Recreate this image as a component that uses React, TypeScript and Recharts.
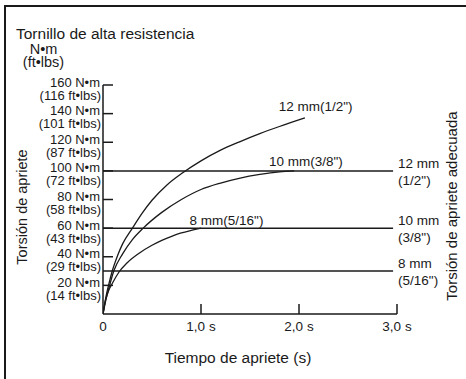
import React from 'react';
import { LineChart, Line, XAxis, YAxis, ReferenceLine, ReferenceDot } from 'recharts';

const FONT = "'Liberation Sans', Arial, sans-serif";
const INK = '#1a1a1a';

// Curves: tightening time (s) vs torque (N·m)
const time12 = [0, 0.03, 0.06, 0.09, 0.15, 0.2, 0.3, 0.4, 0.5, 0.65, 0.81, 1.0, 1.2, 1.4, 1.6, 1.8, 2.06];
const torque12 = [0, 12, 21, 29, 41, 49, 60, 70.5, 79.5, 90, 98.5, 107, 114.5, 120.5, 126, 131, 137];

const time10 = [0, 0.03, 0.06, 0.11, 0.2, 0.3, 0.41, 0.6, 0.8, 1.0, 1.2, 1.4, 1.6, 1.8, 1.95];
const torque10 = [0, 10, 18, 30, 42, 52, 60, 71, 80, 87, 91.5, 95, 97.5, 99.3, 100];

const time8 = [0, 0.02, 0.05, 0.1, 0.16, 0.25, 0.38, 0.5, 0.6, 0.7, 0.8, 0.9, 1.0];
const torque8 = [0, 8, 15, 22, 29, 36, 43, 48, 51.5, 54.2, 56.6, 58.4, 60];

// Axis ticks
const xTicks = [0, 1, 2, 3];
const xTickLabels = ['0', '1,0 s', '2,0 s', '3,0 s'];
const yTicks = [20, 40, 60, 80, 100, 120, 140, 160];
const yTickNm = ['20 N•m', '40 N•m', '60 N•m', '80 N•m', '100 N•m', '120 N•m', '140 N•m', '160 N•m'];
const yTickFt = ['(14 ft•lbs)', '(29 ft•lbs)', '(43 ft•lbs)', '(58 ft•lbs)', '(72 ft•lbs)', '(87 ft•lbs)', '(101 ft•lbs)', '(116 ft•lbs)'];

// Adequate torque levels
const levelTorque = [100, 60, 30];
const levelEnd = 2.96;
const levelLabelTop = ['12 mm', '10 mm', '8 mm'];
const levelLabelBottom = ['(1/2")', '(3/8")', '(5/16")'];

// Curve labels (anchor in data units)
const curveLabels = ['12 mm(1/2")', '10 mm(3/8")', '8 mm(5/16")'];
const curveLabelT = [2.17, 2.07, 1.26];
const curveLabelV = [145, 106.5, 65.5];

const toRows = (ts: number[], vs: number[]) => ts.map((t, i) => ({ t, v: vs[i] }));
const rows12 = toRows(time12, torque12);
const rows10 = toRows(time10, torque10);
const rows8 = toRows(time8, torque8);

const XTick = (props: any) => {
  const { x, y, payload } = props;
  const idx = xTicks.indexOf(payload.value);
  return (
    <g>
      {payload.value !== 0 && <line x1={x} y1={y} x2={x} y2={y - 10} stroke={INK} strokeWidth={1.5} />}
      <text x={x} y={y + 12} textAnchor="middle" dominantBaseline="central" fontFamily={FONT} fontSize={13.5} fill={INK}>
        {xTickLabels[idx]}
      </text>
    </g>
  );
};

const YTick = (props: any) => {
  const { x, y, payload } = props;
  const idx = yTicks.indexOf(payload.value);
  return (
    <g>
      <line x1={x} y1={y} x2={x + 10} y2={y} stroke={INK} strokeWidth={1.5} />
      <text x={x - 3} y={y - 3} textAnchor="end" dominantBaseline="central" fontFamily={FONT} fontSize={13} fill={INK}>
        {yTickNm[idx]}
      </text>
      <text x={x - 2} y={y + 10} textAnchor="end" dominantBaseline="central" fontFamily={FONT} fontSize={13} fill={INK}>
        {yTickFt[idx]}
      </text>
    </g>
  );
};

const LevelLabel = (props: any) => {
  const { viewBox, top, bottom } = props;
  const x = viewBox.x + viewBox.width + 5;
  const y = viewBox.y;
  return (
    <g>
      <text x={x} y={y - 7.5} dominantBaseline="central" fontFamily={FONT} fontSize={13.5} fill={INK}>{top}</text>
      <text x={x} y={y + 9.5} dominantBaseline="central" fontFamily={FONT} fontSize={13.5} fill={INK}>{bottom}</text>
    </g>
  );
};

const CurveLabel = (props: any) => {
  const { viewBox, text } = props;
  const cx = viewBox.x + (viewBox.width || 0) / 2;
  const cy = viewBox.y + (viewBox.height || 0) / 2;
  return (
    <text x={cx} y={cy} textAnchor="middle" dominantBaseline="central" fontFamily={FONT} fontSize={13.5} fill={INK}>
      {text}
    </text>
  );
};

export default function App() {
  return (
    <div style={{ position: 'absolute', left: 0, top: 0, width: 466, height: 379, background: '#fff' }}>
      <div style={{ position: 'absolute', left: 4, top: 5, width: 470, height: 380, borderTop: `2px solid ${INK}`, borderLeft: `2px solid ${INK}` }} />
      <div style={{ position: 'absolute', left: 0, top: 0 }}>
        <LineChart width={466} height={379} margin={{ top: 85, right: 69, bottom: 35, left: 0 }}>
          <text x={16} y={33} dominantBaseline="central" fontFamily={FONT} fontSize={15.5} fill={INK}>Tornillo de alta resistencia</text>
          <text x={43.5} y={49} textAnchor="middle" dominantBaseline="central" fontFamily={FONT} fontSize={14.5} fill={INK}>N•m</text>
          <text x={43.5} y={62} textAnchor="middle" dominantBaseline="central" fontFamily={FONT} fontSize={14.5} fill={INK}>(ft•lbs)</text>
          <text x={21.5} y={207} transform="rotate(-90 21.5 207)" textAnchor="middle" dominantBaseline="central" fontFamily={FONT} fontSize={14.5} fill={INK}>Torsión de apriete</text>
          <text x={451.5} y={206} transform="rotate(-90 451.5 206)" textAnchor="middle" dominantBaseline="central" fontFamily={FONT} fontSize={15} fill={INK}>Torsión de apriete adecuada</text>
          <text x={238} y={357.5} textAnchor="middle" dominantBaseline="central" fontFamily={FONT} fontSize={15.5} fill={INK}>Tiempo de apriete (s)</text>
          <XAxis
            type="number"
            dataKey="t"
            domain={[0, 3]}
            ticks={xTicks}
            height={30}
            tickLine={false}
            tickSize={0}
            tickMargin={0}
            axisLine={{ stroke: INK, strokeWidth: 1.5 }}
            tick={<XTick />}
            allowDataOverflow
          />
          <YAxis
            type="number"
            dataKey="v"
            domain={[0, 160]}
            ticks={yTicks}
            width={103}
            tickLine={false}
            tickSize={0}
            tickMargin={0}
            axisLine={{ stroke: INK, strokeWidth: 1.5 }}
            tick={<YTick />}
            interval={0}
            allowDataOverflow
          />
          {levelTorque.map((lv, i) => (
            <ReferenceLine
              key={'lv' + i}
              segment={[{ x: 0, y: lv }, { x: levelEnd, y: lv }]}
              stroke={INK}
              strokeWidth={1.5}
              ifOverflow="visible"
              label={<LevelLabel top={levelLabelTop[i]} bottom={levelLabelBottom[i]} />}
            />
          ))}
          <Line data={rows12} dataKey="v" type="monotone" stroke={INK} strokeWidth={1.3} dot={false} isAnimationActive={false} />
          <Line data={rows10} dataKey="v" type="monotone" stroke={INK} strokeWidth={1.3} dot={false} isAnimationActive={false} />
          <Line data={rows8} dataKey="v" type="monotone" stroke={INK} strokeWidth={1.3} dot={false} isAnimationActive={false} />
          {curveLabels.map((lb, i) => (
            <ReferenceDot
              key={'cl' + i}
              x={curveLabelT[i]}
              y={curveLabelV[i]}
              r={0}
              fill="none"
              stroke="none"
              ifOverflow="visible"
              label={<CurveLabel text={lb} />}
            />
          ))}
        </LineChart>
      </div>
    </div>
  );
}
